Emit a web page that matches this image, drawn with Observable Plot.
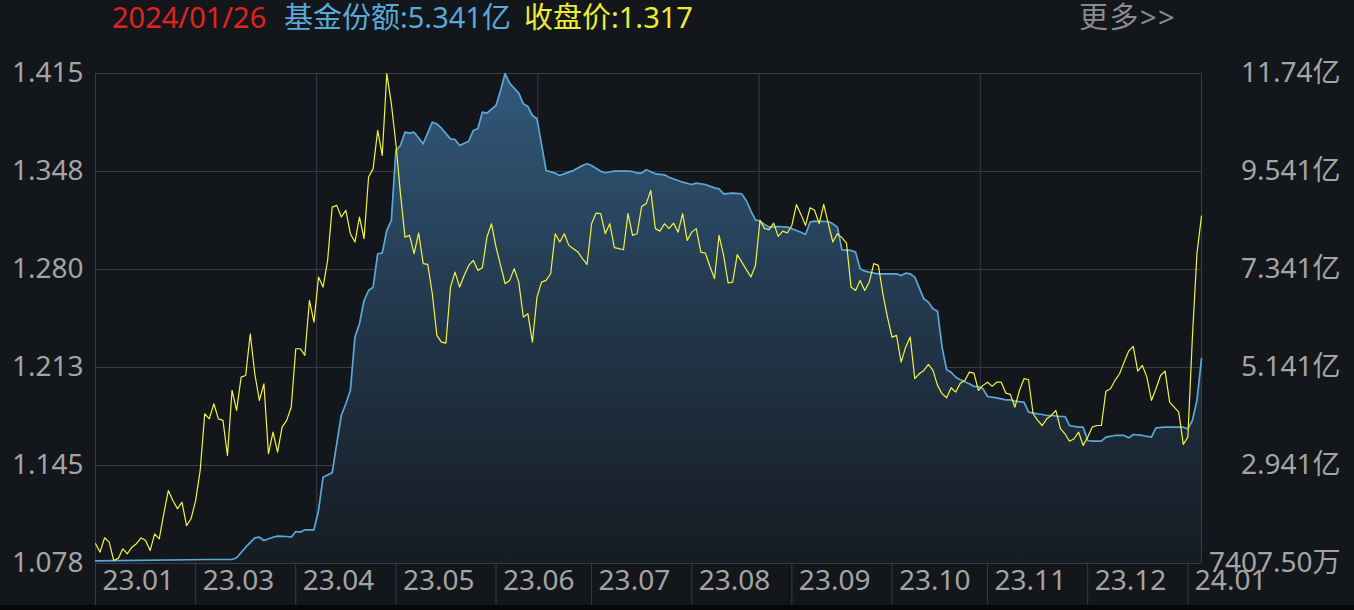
<!DOCTYPE html>
<html><head><meta charset="utf-8">
<script src="https://cdn.jsdelivr.net/npm/d3@7"></script>
<script src="https://cdn.jsdelivr.net/npm/@observablehq/plot@0.6"></script>
<style>
html,body{margin:0;padding:0;background:#13161b;width:1354px;height:610px;overflow:hidden;font-family:"Noto Sans","Noto Sans CJK SC",sans-serif;}
#header{position:relative;height:36px;font-size:29px;}
#header span{position:absolute;top:0;line-height:34px;white-space:nowrap;}
#chart svg{display:block;}
#foot{position:absolute;left:0;top:605px;width:1354px;height:5px;background:#060708;}
</style></head><body>
<div id="header">
<span id="hDate" style="left:112px;color:#e0231f"></span>
<span id="hShare" style="left:284px;color:#5aa9d8"></span>
<span id="hPrice" style="left:524px;color:#ecec34"></span>
<span id="hMore" style="left:1079px;color:#8c8c8c;letter-spacing:1.5px"></span>
</div>
<div id="chart"></div>
<div id="foot"></div>
<script>
// ---- header texts ----
const headerDate = "2024/01/26";
const headerShare = "基金份额:5.341亿";
const headerPrice = "收盘价:1.317";
const headerMore = "更多>>";

// ---- axis ticks / labels ----
const leftLabels = ["1.078", "1.145", "1.213", "1.280", "1.348", "1.415"];
const rightLabels = ["7407.50万", "2.941亿", "5.141亿", "7.341亿", "9.541亿", "11.74亿"];
const monthTicks = [0, 22, 44, 66, 88, 109, 131, 153, 175, 196, 218, 240];   // trading-day index
const monthLabels = ["23.01", "23.03", "23.04", "23.05", "23.06", "23.07", "23.08", "23.09", "23.10", "23.11", "23.12", "24.01"];

// ---- closing price (收盘价), one value per trading day ----
const price = [
1.0916,1.0858,1.0957,1.0927,1.0801,1.0815,1.0881,1.0847,1.0892,1.0916,
1.0957,1.0938,1.0869,1.0984,1.0950,1.1122,1.1282,1.1213,1.1156,1.1202,
1.1041,1.1088,1.1213,1.1420,1.1810,1.1775,1.1879,1.1775,1.1764,1.1523,
1.1970,1.1833,1.2062,1.2073,1.2360,1.2085,1.1901,1.2016,1.1535,1.1683,
1.1546,1.1718,1.1764,1.1855,1.2257,1.2257,1.2211,1.2589,1.2440,1.2750,
1.2681,1.2865,1.3231,1.3243,1.3163,1.3209,1.3048,1.2991,1.3163,1.3014,
1.3438,1.3496,1.3759,1.3587,1.4149,1.3943,1.3667,1.3324,1.3025,1.3037,1.2911,
1.3053,1.2842,1.2837,1.2635,1.2349,1.2303,1.2296,1.2681,1.2784,1.2681,
1.2761,1.2830,1.2865,1.2796,1.2814,1.3025,1.3117,1.2956,1.2830,1.2704,
1.2727,1.2808,1.2715,1.2475,1.2498,1.2303,1.2612,1.2715,1.2727,1.2773,
1.3048,1.2991,1.3048,1.2968,1.2945,1.2922,1.2876,1.2837,1.3117,1.3190,
1.3186,1.3048,1.3117,1.2952,1.2945,1.2938,1.3186,1.3037,1.3048,1.3236,
1.3255,1.3346,1.3083,1.3066,1.3117,1.3083,1.3121,1.3059,1.3186,1.3002,
1.3059,1.3083,1.2922,1.2915,1.2823,1.2739,1.3037,1.2899,
1.2709,1.2715,1.2904,1.2853,1.2801,1.2750,1.2830,1.3140,1.3083,1.3076,
1.3121,1.3030,1.3066,1.3053,1.3105,1.3248,1.3181,1.3105,1.3227,1.3209,
1.3117,1.3250,1.3117,1.2991,1.3048,1.3021,1.2984,1.2681,1.2658,1.2727,
1.2658,1.2715,1.2842,1.2830,1.2635,1.2475,1.2337,1.2349,1.2165,1.2268,
1.2337,1.2051,1.2085,1.2108,1.2149,1.2108,1.2005,1.1948,1.1920,1.1989,
1.1959,1.2020,1.2039,1.2096,1.2089,1.1970,1.2005,1.2027,1.1998,1.2027,
1.2027,1.1952,1.1943,1.1855,1.1970,1.2051,1.2044,1.1810,1.1764,1.1729,1.1775,
1.1798,1.1833,1.1707,1.1672,1.1621,1.1638,1.1683,1.1592,1.1649,1.1718,
1.1729,1.1729,1.1965,1.1982,1.2039,1.2085,1.2165,1.2241,1.2273,1.2103,
1.2142,1.2062,1.1901,1.1982,1.2073,1.2103,1.1890,1.1855,1.1821,1.1599,
1.1649,1.2337,1.2911,1.3170
];

// ---- fund share (基金份额, 亿份) at trading-day indices ----
const shareDay = [0,25,30,31,33,35,36,37,39,40,42,43,44,45,46,48,49,50,52,53,54,55,56,57,58,59,60,61,62,63,64,65,66,67,68,69,70,72,74,75,76,78,79,80,82,83,84,85,86,88,89,90,91,93,94,95,96,97,98,99,101,102,104,105,107,108,109,111,112,114,117,118,119,120,121,123,125,126,128,129,131,132,134,136,137,138,140,142,143,144,145,146,147,148,150,152,153,155,156,157,158,161,162,163,164,166,167,168,169,171,172,176,177,178,179,180,182,183,184,185,186,187,188,189,190,192,193,194,195,196,198,200,201,202,204,205,207,208,209,210,212,213,214,216,217,218,219,221,222,224,226,227,228,230,232,233,235,239,240,241,242,243];
const shareValue = [0.80,0.83,0.83,0.87,1.107,1.318,1.331,1.257,1.331,1.354,1.347,1.331,1.459,1.444,1.497,1.497,1.931,2.678,2.776,3.428,4.063,4.326,4.625,5.821,6.122,6.645,6.869,6.944,7.694,7.707,8.217,8.441,10.012,10.124,10.423,10.401,10.423,10.163,10.648,10.611,10.513,10.274,10.259,10.124,10.221,10.461,10.499,10.872,10.850,11.022,11.359,11.740,11.523,11.299,11.060,11.000,10.798,10.724,10.150,9.563,9.503,9.451,9.526,9.563,9.676,9.714,9.676,9.548,9.512,9.548,9.548,9.541,9.503,9.503,9.579,9.489,9.467,9.413,9.339,9.301,9.249,9.279,9.249,9.174,9.151,9.039,9.054,9.039,8.884,8.658,8.456,8.426,8.351,8.291,8.306,8.291,8.254,8.178,8.127,8.403,8.426,8.418,8.366,8.291,7.783,7.768,7.730,7.356,7.303,7.258,7.244,7.244,7.206,7.258,7.244,7.169,6.683,6.608,6.458,6.405,5.600,5.089,5.035,4.923,4.864,4.775,4.714,4.714,4.662,4.489,4.460,4.415,4.415,4.384,4.362,4.137,4.101,4.086,4.063,4.063,4.041,4.041,3.839,3.801,3.801,3.502,3.487,3.487,3.577,3.615,3.615,3.562,3.637,3.615,3.577,3.787,3.801,3.801,3.764,3.951,4.400,5.341];

document.getElementById("hDate").textContent = headerDate;
document.getElementById("hShare").textContent = headerShare;
document.getElementById("hPrice").textContent = headerPrice;
document.getElementById("hMore").textContent = headerMore;

const grid = "#393c42";
const textColor = "#a4a4a4";
const N = price.length;
const yMin = +leftLabels[0], yMax = +leftLabels[leftLabels.length - 1];
const sMin = 0.74075, sMax = 11.74075;   // right axis range (亿)
const toY = v => yMin + (v - sMin) / (sMax - sMin) * (yMax - yMin);
const yTicks = d3.range(6).map(k => yMin + k * (yMax - yMin) / 5);
const gridX = d3.range(6).map(k => k * (N - 1) / 5);
const priceData = price.map((v, i) => ({i, v}));
const shareData = shareDay.map((d, i) => ({d, v: toY(shareValue[i])}));

const chart = Plot.plot({
  width: 1354, height: 574,
  marginLeft: 95, marginRight: 153, marginTop: 37, marginBottom: 47,
  style: {background: "transparent", color: textColor, fontFamily: '"Noto Sans","Noto Sans CJK SC",sans-serif', fontSize: "28px", overflow: "visible"},
  x: {domain: [0, N - 1], axis: null},
  y: {domain: [yMin, yMax], axis: null},
  marks: [
    Plot.ruleY(yTicks, {stroke: grid, strokeWidth: 1}),
    Plot.ruleX(gridX, {stroke: grid, strokeWidth: 1}),
    Plot.areaY(shareData, {x: "d", y1: yMin, y2: "v", fill: "url(#shareGrad)"}),
    Plot.lineY(shareData, {x: "d", y: "v", stroke: "#5ba8d7", strokeWidth: 1.7}),
    Plot.lineY(priceData, {x: "i", y: "v", stroke: "#f3f33c", strokeWidth: 1.2}),
    Plot.axisY(yTicks, {anchor: "left", label: null, tickSize: 0, tickPadding: 12, fill: textColor, fontSize: 28,
      tickFormat: d => leftLabels[yTicks.indexOf(d)]}),
    Plot.axisY(yTicks, {anchor: "right", label: null, tickSize: 0, tickPadding: 139, textAnchor: "end", fill: textColor, fontSize: 28,
      tickFormat: d => rightLabels[yTicks.indexOf(d)]}),
    Plot.axisX(monthTicks, {anchor: "bottom", label: null, tickSize: 42, stroke: grid, tickFormat: () => ""}),
    Plot.text(monthTicks, {x: d => d, text: d => monthLabels[monthTicks.indexOf(d)], frameAnchor: "bottom",
      dy: 18, dx: 7, textAnchor: "start", lineAnchor: "middle", fill: textColor, fontSize: 28})
  ]
});
const svgEl = chart.tagName.toLowerCase() === "svg" ? chart : chart.querySelector("svg");
const defs = d3.select(svgEl).insert("defs", ":first-child");
const lg = defs.append("linearGradient").attr("id", "shareGrad")
  .attr("x1", 0).attr("y1", 0).attr("x2", 0).attr("y2", 1);
lg.append("stop").attr("offset", "0%").attr("stop-color", "#32597b");
lg.append("stop").attr("offset", "55%").attr("stop-color", "#213447");
lg.append("stop").attr("offset", "100%").attr("stop-color", "#161c23");
document.getElementById("chart").appendChild(chart);
</script>
</body></html>
